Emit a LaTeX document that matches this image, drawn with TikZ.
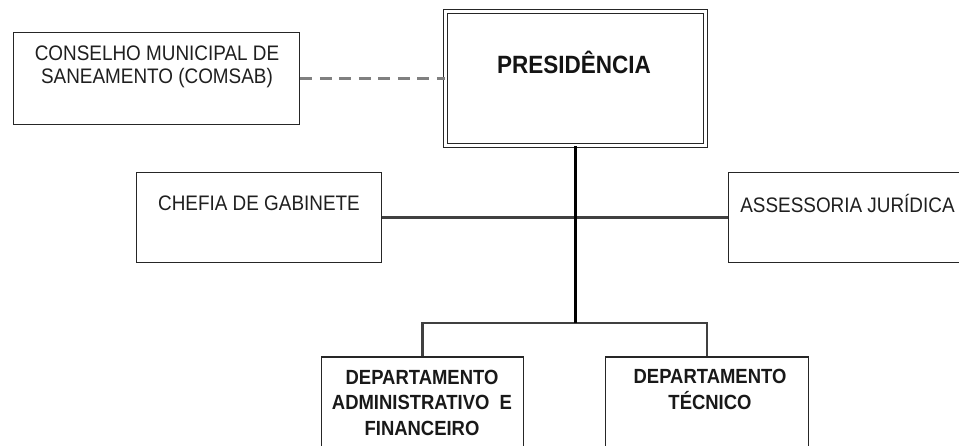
\documentclass[tikz,border=0pt]{standalone}
\usepackage{fontspec}
\setmainfont{Liberation Sans}
\newfontfamily\narrowsans[FakeStretch=0.9]{Liberation Sans}
\begin{document}
\begin{tikzpicture}[x=1pt,y=-1pt,
  box/.style={draw=black!85, line width=1.9pt, inner sep=0pt},
  txt/.style={text=black!88, align=center, inner sep=0pt, font=\narrowsans\fontsize{21}{23}\selectfont},
  btxt/.style={text=black!90, align=center, inner sep=0pt, font=\narrowsans\fontsize{20.5}{25.5}\selectfont\bfseries},
  link/.style={draw=black!75, line width=2.4pt},
  trunk/.style={draw=black, line width=3.2pt},
  dashlink/.style={draw=black!50, line width=2.8pt, dash pattern=on 12pt off 7.5pt}]
\useasboundingbox (0,0) rectangle (959,446);
\clip (0,0) rectangle (959,446);
\fill[white] (0,0) rectangle (959,446);
% boxes
\node[box, minimum width=286pt, minimum height=92pt] (comsab) at (156.5,78.5) {};
\node[draw=black!85, line width=1.7pt, double, double distance=2.2pt, inner sep=0pt,
      minimum width=260pt, minimum height=134pt] (pres) at (575.5,78.5) {};
\node[box, minimum width=245pt, minimum height=90pt] (chefia) at (259,217.5) {};
\node[box, minimum width=245pt, minimum height=90pt] (assess) at (851,217.5) {};
\node[box, minimum width=202pt, minimum height=110pt] (dadm) at (422.5,412) {};
\node[box, minimum width=203pt, minimum height=110pt] (dtec) at (707,412) {};
% texts
\node[txt] (tcomsab) at (157,66.5) {CONSELHO MUNICIPAL DE\\SANEAMENTO (COMSAB)};
\node[text=black!92, inner sep=0pt, font=\narrowsans\fontsize{25}{27}\selectfont\bfseries] (tpres) at (574,62) {PRESIDÊNCIA};
\node[txt] (tchefia) at (259,203) {CHEFIA DE GABINETE};
\node[txt] (tassess) at (847.5,203) {ASSESSORIA JURÍDICA};
\node[btxt] (tdadm) at (422,402.5) {DEPARTAMENTO\\ADMINISTRATIVO\ \ E\\FINANCEIRO};
\node[btxt] (tdtec) at (710,389.5) {DEPARTAMENTO\\TÉCNICO};
% connectors
\coordinate (bus) at (575.5,323);
\draw[dashlink] (comsab.east) -- (pres.west);
\draw[link] (chefia.east) -- (assess.west);
\draw[link] (dadm.north) |- (bus) -| (dtec.north);
\draw[trunk] (pres.south) -- (bus);
\end{tikzpicture}
\end{document}
